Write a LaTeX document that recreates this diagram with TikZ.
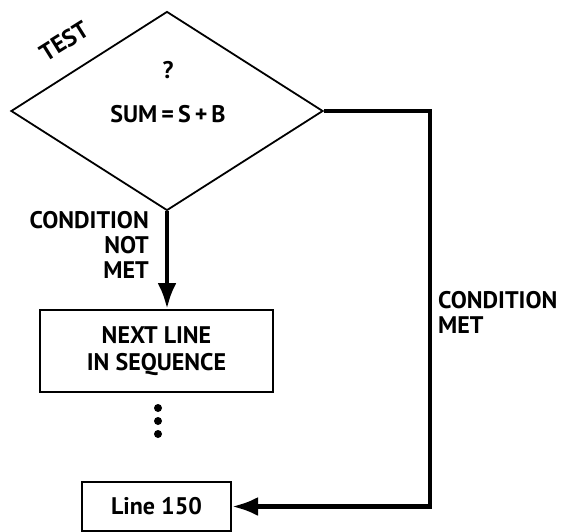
\documentclass[tikz,border=0pt]{standalone}
\usepackage{fontspec}
\setmainfont{PT Sans}
\usetikzlibrary{shapes.geometric,arrows.meta}
\tikzset{
  lbl/.style={font=\bfseries\fontsize{24}{25}\selectfont, inner sep=0pt},
  flow/.style={line width=4.5pt, -{Latex[length=26pt,width=19pt]}},
  box/.style={draw, line width=2pt, inner sep=0pt}
}
\begin{document}
\begin{tikzpicture}[x=1pt,y=-1pt]
			\useasboundingbox (0,0) rectangle (562,532);
			\node[diamond, draw, line width=1.8pt, minimum width=312pt, minimum height=199pt, inner sep=0pt] (test) at (167,111) {};
			\node[lbl] (qmark) at (168,70) {?};
			\node[lbl] (sum) at (168,114) {SUM\,=\,S\,+\,B};
			\node[lbl, rotate=32] (testlbl) at (64,41) {TEST};
			\node[box, minimum width=233pt, minimum height=82pt] (next) at (156.5,351) {};
			\node[lbl, align=center] (nexttxt) at (next.center) {NEXT LINE\\[2pt]IN SEQUENCE};
			\node[box, minimum width=149pt, minimum height=49pt] (l150) at (156.5,506.5) {};
			\node[lbl] (l150txt) at (l150.center) {Line 150};
			\node[lbl, align=right, anchor=north east] (notmet) at (149,211) {CONDITION\\NOT\\MET};
			\node[lbl, align=left, anchor=north west] (met) at (438,291) {CONDITION\\MET};
			\coordinate (turn) at (430,111);
			\draw[flow] (test.south) -- (test.south |- next.north);
			\draw[flow] (test.east) -- (turn) |- (l150.east);
			\foreach \y in {408,421,434}
				\fill (158,\y) circle (4pt);
		\end{tikzpicture}
\end{document}
